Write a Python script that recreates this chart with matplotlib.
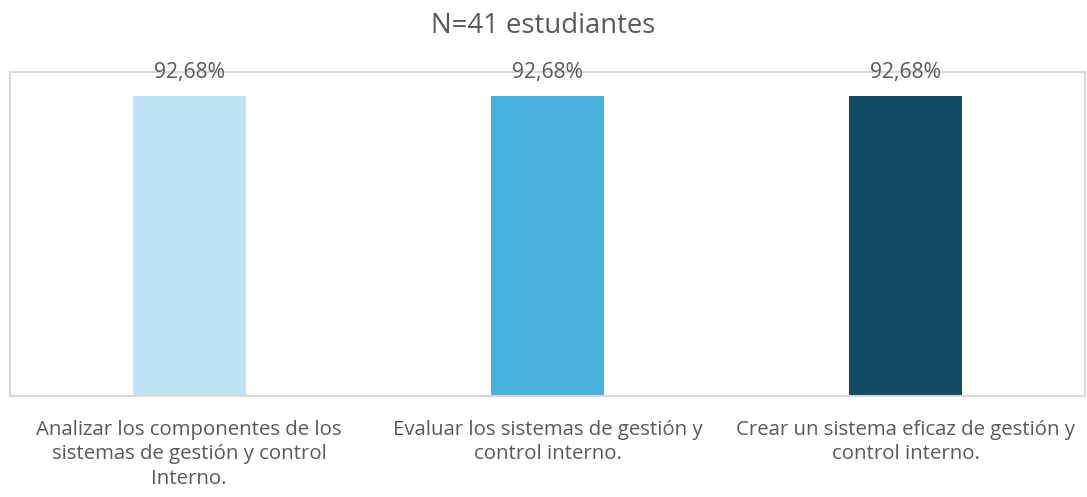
import matplotlib
matplotlib.use("Agg")
import matplotlib.pyplot as plt

plt.rcParams["font.family"] = ["Open Sans", "DejaVu Sans"]

categories = [
    "Analizar los componentes de los\nsistemas de gestión y control\nInterno.",
    "Evaluar los sistemas de gestión y\ncontrol interno.",
    "Crear un sistema eficaz de gestión y\ncontrol interno.",
]
values = [92.68, 92.68, 92.68]
colors = ["#C1E4F4", "#47B1E0", "#124A63"]
title = "N=41 estudiantes"

text_color = "#595959"

fig = plt.figure(figsize=(10.87, 4.97), dpi=100)
ax = fig.add_axes([10 / 1087, 101 / 497, 1075 / 1087, 324 / 497])

x = range(len(values))
bars = ax.bar(x, values, width=0.315, color=colors, zorder=2)

ax.set_xlim(-0.5, len(values) - 0.5)
ax.set_ylim(0, 100)
ax.set_yticks([])
ax.set_xticks(list(x))
ax.set_xticklabels(categories, fontsize=14.7, color=text_color, linespacing=1.3)
ax.tick_params(axis="x", length=0, pad=17)

for s in ax.spines.values():
    s.set_color("#D9D9D9")
    s.set_linewidth(1.5)

for b, v in zip(bars, values):
    ax.annotate(f"{v:.2f}%".replace(".", ","),
                xy=(b.get_x() + b.get_width() / 2, v),
                xytext=(0, 17), textcoords="offset points",
                ha="center", va="center", fontsize=15.2, color=text_color,
                zorder=3)

fig.text(0.5, 1 - 26 / 497, title, ha="center", va="center",
         fontsize=19.8, color=text_color)

fig.savefig("out.png", dpi=100)
